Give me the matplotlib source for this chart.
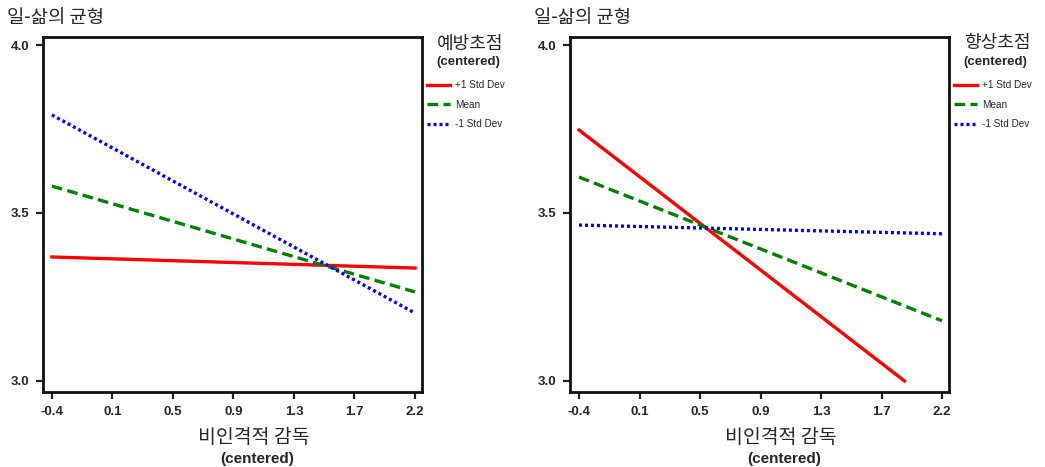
import numpy as np
import matplotlib.pyplot as plt
from matplotlib import font_manager

# Data (x = centered 비인격적 감독, y = 일-삶의 균형)
tick_labels = ['-0.4', '0.1', '0.5', '0.9', '1.3', '1.7', '2.2']
y_ticks = [3.0, 3.5, 4.0]

# left panel: 예방초점 moderator
prev_x = [-0.4, 2.2]
prev_high = [3.369, 3.336]
prev_mean = [3.580, 3.265]
prev_low = [3.792, 3.202]

# right panel: 향상초점 moderator
prom_x_high = [-0.4, 1.93]
prom_high = [3.747, 3.0]
prom_x = [-0.4, 2.2]
prom_mean = [3.607, 3.179]
prom_low = [3.464, 3.438]

names = [f.name for f in font_manager.fontManager.ttflist]
narrow = 'Liberation Sans Narrow' if 'Liberation Sans Narrow' in names else 'Liberation Sans'
kr = ['Noto Sans CJK KR', 'DejaVu Sans']
txt = '#262626'

fig = plt.figure(figsize=(10.45, 4.67), dpi=100)


def panel(left, moderator, xs_h, yh, xs, ym, yl):
    ax = fig.add_axes([left, 0.1606, 0.3627, 0.7602])
    ax.plot(xs_h, yh, color='#ff0000', lw=2.4, label='+1 Std Dev')
    ax.plot(xs, ym, color='#008000', lw=2.4, ls=(0, (3.2, 1.6)), label='Mean')
    ax.plot(xs, yl, color='#0000ff', lw=2.4, ls=(0, (0.9, 0.9)), label='-1 Std Dev')
    ax.set_xlim(-0.464, 2.25)
    ax.set_ylim(2.967, 4.024)
    ax.set_xticks(np.linspace(-0.4, 2.2, len(tick_labels)))
    ax.set_xticklabels(tick_labels)
    ax.set_yticks(y_ticks)
    ax.set_yticklabels(['%.1f' % v for v in y_ticks])
    for lab in ax.get_xticklabels() + ax.get_yticklabels():
        lab.set_fontfamily(narrow)
        lab.set_fontweight('bold')
        lab.set_fontsize(9.5)
        lab.set_color(txt)
    ax.tick_params(direction='out', length=5, width=1.6, color='#222222', pad=5)
    for s in ax.spines.values():
        s.set_linewidth(2)
        s.set_color('#111111')

    # axis titles
    ax.text(-0.095, 1.054, '일-삶의 균형', transform=ax.transAxes, family=kr,
            fontsize=13.5, color=txt, ha='left', va='center')
    ax.text(0.557, -0.128, '비인격적 감독', transform=ax.transAxes, family=kr,
            fontsize=14, color=txt, ha='center', va='center')
    ax.text(0.565, -0.19, '(centered)', transform=ax.transAxes, family=narrow,
            fontweight='bold', fontsize=11, color=txt, ha='center', va='center')

    # legend block
    ax.text(1.127, 0.982, moderator, transform=ax.transAxes, family=kr,
            fontsize=13, color=txt, ha='center', va='center')
    ax.text(1.121, 0.930, '(centered)', transform=ax.transAxes, family=narrow,
            fontweight='bold', fontsize=9.5, color=txt, ha='center', va='center')
    ax.legend(loc='upper left', bbox_to_anchor=(0.99, 0.903), frameon=False,
              prop={'family': 'Liberation Sans', 'size': 7.2}, handlelength=2.3,
              handletextpad=0.45, labelspacing=0.95, labelcolor=txt)
    return ax


panel(0.0411, '예방초점', prev_x, prev_high, prev_x, prev_mean, prev_low)
panel(0.5455, '향상초점', prom_x_high, prom_high, prom_x, prom_mean, prom_low)

fig.savefig('out.png', dpi=100)
